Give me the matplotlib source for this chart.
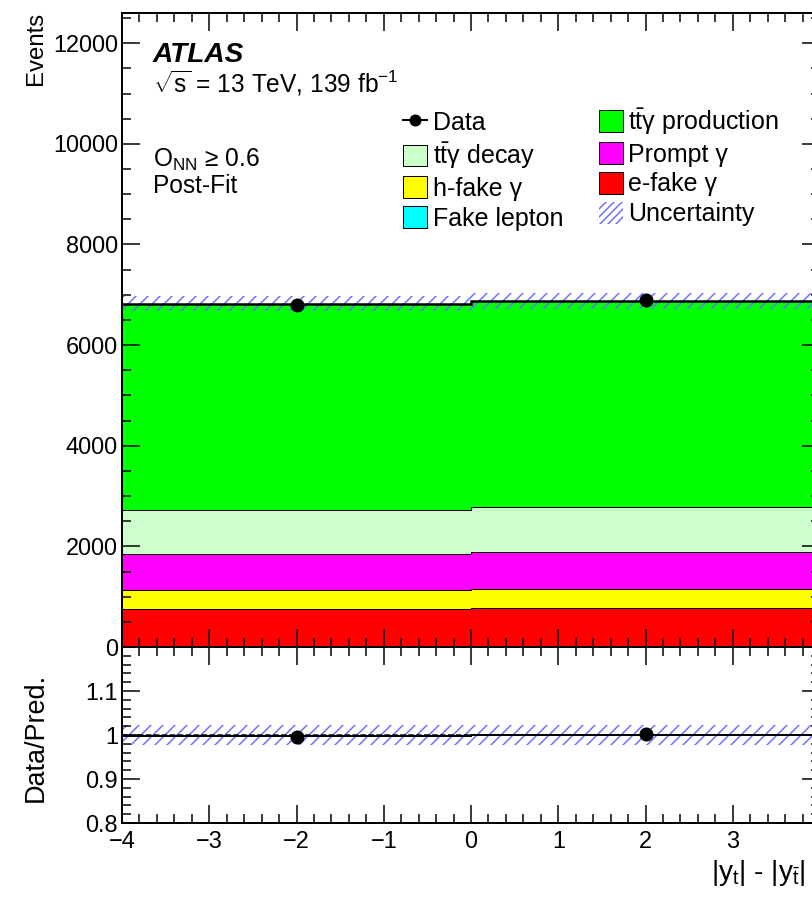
import numpy as np
import matplotlib.pyplot as plt
from matplotlib.lines import Line2D
from matplotlib.patches import Patch
from matplotlib.ticker import MultipleLocator, FixedLocator, FixedFormatter

plt.rcParams['font.family'] = ['Liberation Sans', 'DejaVu Sans']
plt.rcParams['mathtext.fontset'] = 'custom'
plt.rcParams['mathtext.rm'] = 'Liberation Sans'
plt.rcParams['mathtext.it'] = 'Liberation Sans:italic'
plt.rcParams['mathtext.bf'] = 'Liberation Sans:bold'
plt.rcParams['hatch.linewidth'] = 1.5

# bins of |y_t| - |y_tbar|
edges = [-4, 0, 4]

# post-fit yields per bin (stack from bottom to top)
fake_lepton = [15, 15]
e_fake = [737, 757]
h_fake = [390, 382]
prompt = [699, 733]
decay = [891, 891]
production = [4093, 4107]

data = [6800, 6900]
unc_frac = [0.023, 0.023]
ratio_line = [0.997, 1.001]

W, H = 812, 898
fig = plt.figure(figsize=(W / 72, H / 72), dpi=72)
ax = fig.add_axes([122 / W, 1 - 647 / H, 698 / W, 634 / H])
ax2 = fig.add_axes([122 / W, 1 - 823 / H, 698 / W, 176 / H], sharex=ax)

centers = 0.5 * (np.array(edges[:-1]) + np.array(edges[1:]))
data = np.array(data, dtype=float)
unc = np.array(unc_frac)
hatch_col = '#6e6eff'

layers = [(fake_lepton, '#00ffff'), (e_fake, '#ff0000'), (h_fake, '#ffff00'),
          (prompt, '#ff00ff'), (decay, '#ccffcc'), (production, '#00ff00')]
base = np.zeros(len(centers))
for vals, col in layers:
    top = base + np.array(vals, dtype=float)
    ax.stairs(top, edges, baseline=base, fill=True, facecolor=col,
              edgecolor='none', linewidth=0)
    ax.stairs(top, edges, baseline=None, color='black', linewidth=1)
    base = top
total = base

ax.stairs(total * (1 + unc), edges, baseline=total * (1 - unc), fill=True,
          facecolor='none', edgecolor=hatch_col, hatch='//', linewidth=0)
ax.stairs(total, edges, baseline=None, color='black', linewidth=2.5)
ax.errorbar(centers, data, yerr=np.sqrt(data), fmt='o', color='black',
            markersize=13, elinewidth=2, capsize=0)

# ratio panel
ax2.stairs(1 + unc, edges, baseline=1 - unc, fill=True, facecolor='none',
           edgecolor=hatch_col, hatch='//', linewidth=0)
ax2.axhline(1.0, color='black', linestyle='--', linewidth=1.5)
ax2.stairs(ratio_line, edges, baseline=None, color='black', linewidth=2)
ax2.errorbar(centers, data / total, yerr=np.sqrt(data) / total, fmt='o',
             color='black', markersize=13, elinewidth=2, capsize=0)

ax.set_xlim(-4, 4)
ax.set_ylim(0, 12600)
ax2.set_ylim(0.8, 1.2)

ax.yaxis.set_major_locator(MultipleLocator(2000))
ax.yaxis.set_minor_locator(MultipleLocator(500))
# the x = 4 end sits on the right border, beyond the picture
ax.xaxis.set_major_locator(FixedLocator([-4, -3, -2, -1, 0, 1, 2, 3]))
ax.xaxis.set_minor_locator(MultipleLocator(0.2))
ax2.yaxis.set_major_locator(FixedLocator([0.8, 0.9, 1.0, 1.1]))
ax2.yaxis.set_major_formatter(FixedFormatter(['0.8', '0.9', '1', '1.1']))
ax2.yaxis.set_minor_locator(MultipleLocator(0.02))

for a in (ax, ax2):
    a.tick_params(which='both', direction='in', top=True, right=True,
                  width=1.5, labelsize=23.5, pad=4)
    a.tick_params(which='major', length=18)
    a.tick_params(which='minor', length=9)
    for s in a.spines.values():
        s.set_linewidth(2)
ax.tick_params(axis='x', labelbottom=False)
ax2.tick_params(axis='x', pad=8)

handles = [
    Line2D([], [], color='black', marker='o', markersize=11, linewidth=2),
    Patch(facecolor='#ccffcc', edgecolor='black', linewidth=1),
    Patch(facecolor='#ffff00', edgecolor='black', linewidth=1),
    Patch(facecolor='#00ffff', edgecolor='black', linewidth=1),
    Patch(facecolor='#00ff00', edgecolor='black', linewidth=1),
    Patch(facecolor='#ff00ff', edgecolor='black', linewidth=1),
    Patch(facecolor='#ff0000', edgecolor='black', linewidth=1),
    Patch(facecolor='none', edgecolor=hatch_col, hatch='///', linewidth=0),
]
labels = ['Data', r'$\mathregular{t\bar{t}}$γ decay', 'h-fake γ',
          'Fake lepton', r'$\mathregular{t\bar{t}}$γ production',
          'Prompt γ', 'e-fake γ', 'Uncertainty']
ax.legend(handles, labels, ncol=2, loc='upper left',
          bbox_to_anchor=(403 / W, 1 - 106 / H), bbox_transform=fig.transFigure,
          frameon=False, fontsize=25, borderpad=0, borderaxespad=0,
          handlelength=0.96, handleheight=0.96, handletextpad=0.24,
          columnspacing=1.4, labelspacing=0.215)

fig.text(153 / W, 1 - 62 / H, 'ATLAS', fontsize=28, fontweight='bold',
         fontstyle='italic', va='baseline')
fig.text(153 / W, 1 - 93 / H,
         r'$\sqrt{\mathregular{s}}$ = 13 TeV, 139 fb$^{\mathregular{-1}}$',
         fontsize=24.5, va='baseline')
fig.text(153 / W, 1 - 167 / H, r'O$_{\mathregular{NN}}$ ≥ 0.6', fontsize=24.5,
         va='baseline')
fig.text(153 / W, 1 - 193 / H, 'Post-Fit', fontsize=24.5, va='baseline')

fig.text(36 / W, 1 - 12 / H, 'Events', rotation=90, ha='center', va='top',
         fontsize=24)
fig.text(36 / W, 1 - 737 / H, 'Data/Pred.', rotation=90, ha='center',
         va='center', fontsize=27)
fig.text(711 / W, 1 - 880 / H,
         r'$\mathregular{|y_{t}|}$ - $\mathregular{|y_{\bar{t}}|}$',
         fontsize=28, va='baseline')

fig.savefig('out.png', dpi=72)
